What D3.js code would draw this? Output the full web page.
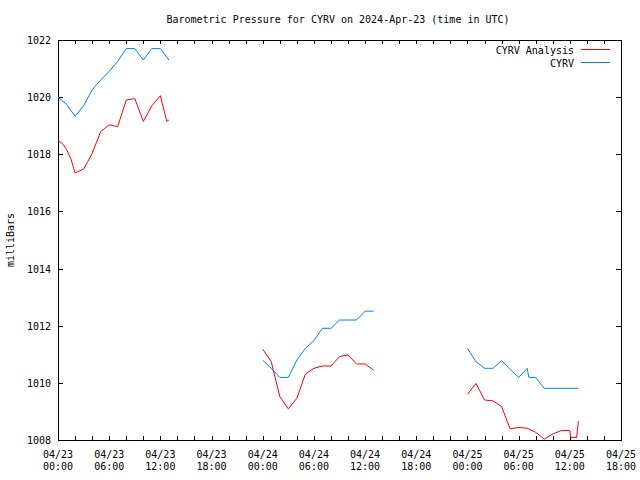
<!DOCTYPE html>
<html>
<head>
<meta charset="utf-8">
<script src="https://cdn.jsdelivr.net/npm/d3@7"></script>
<style>
  html, body { margin: 0; padding: 0; background: #fff; }
  svg { display: block; }
  text { font-family: "DejaVu Sans Mono", "Liberation Mono", monospace; font-size: 10px; fill: #000; }
</style>
</head>
<body>
<svg id="chart" width="640" height="480"></svg>
<script>
// ---- Data (hours after 2024-04-23 00:00 UTC) ----
const chartTitle = "Barometric Pressure for CYRV on 2024-Apr-23 (time in UTC)";
const yAxisTitle = "milliBars";
const seriesNames = ["CYRV Analysis", "CYRV"];

const analysisHours = [0, 0.6, 1, 1.5, 2, 3, 3.5, 4, 5, 6, 7, 8, 9, 10, 11, 12, 12.75, 13,
  24, 25, 26, 27, 28, 29, 30, 31, 32, 33, 34, 35, 36, 37,
  48, 49, 50, 51, 52, 53, 54, 55, 56, 57, 58, 59, 60, 60.1, 60.8, 61];
const analysisValues = [1018.5, 1018.35, 1018.17, 1017.85, 1017.35, 1017.48, 1017.75, 1018.03, 1018.79, 1019.03, 1018.97, 1019.9, 1019.95, 1019.15, 1019.7, 1020.05, 1019.15, 1019.2,
  1011.18, 1010.74, 1009.52, 1009.09, 1009.46, 1010.31, 1010.51, 1010.59, 1010.59, 1010.92, 1010.98, 1010.66, 1010.66, 1010.44,
  1009.6, 1009.98, 1009.4, 1009.37, 1009.17, 1008.39, 1008.44, 1008.41, 1008.27, 1008.03, 1008.21, 1008.33, 1008.33, 1008.09, 1008.09, 1008.66];

const obsHours = [0, 1, 2, 3, 4, 5, 6, 7, 8, 9, 10, 11, 12, 13,
  24, 25, 26, 27, 28, 29, 30, 31, 32, 33, 34, 35, 36, 37,
  48, 49, 50, 51, 52, 53, 54, 55, 55.2, 56, 57, 58, 59, 60, 61];
const obsValues = [1020.0, 1019.75, 1019.33, 1019.7, 1020.25, 1020.6, 1020.9, 1021.25, 1021.7, 1021.7, 1021.3, 1021.7, 1021.7, 1021.3,
  1010.79, 1010.51, 1010.19, 1010.19, 1010.8, 1011.21, 1011.48, 1011.91, 1011.91, 1012.2, 1012.2, 1012.2, 1012.51, 1012.51,
  1011.21, 1010.74, 1010.51, 1010.51, 1010.78, 1010.47, 1010.19, 1010.51, 1010.19, 1010.19, 1009.81, 1009.81, 1009.81, 1009.81, 1009.81];

const xTickHours = [0, 6, 12, 18, 24, 30, 36, 42, 48, 54, 60, 66];
const xTickDates = ["04/23", "04/23", "04/23", "04/23", "04/24", "04/24", "04/24", "04/24", "04/25", "04/25", "04/25", "04/25"];
const xTickTimes = ["00:00", "06:00", "12:00", "18:00", "00:00", "06:00", "12:00", "18:00", "00:00", "06:00", "12:00", "18:00"];
const yTicks = [1008, 1010, 1012, 1014, 1016, 1018, 1020, 1022];

const colors = ["#ff0000", "#0080ff"];

// ---- Layout ----
const svg = d3.select("#chart");
const L = 58, R = 621, T = 40, B = 440;
const x = d3.scaleLinear().domain([0, 66]).range([L, R]);
const y = d3.scaleLinear().domain([1008, 1022]).range([B, T]);

// Title
svg.append("text").attr("x", 338).attr("y", 23).attr("text-anchor", "middle").text(chartTitle);

// Y axis title
svg.append("text").attr("transform", "translate(14,240) rotate(-90)")
  .attr("text-anchor", "middle").text(yAxisTitle);

// Ticks
const minorHours = d3.range(0, 67, 2);
const tickG = svg.append("g").attr("stroke", "#000").attr("stroke-width", 1).attr("shape-rendering", "crispEdges");
minorHours.forEach(h => {
  const xx = Math.round(x(h)) + 0.5;
  tickG.append("line").attr("x1", xx).attr("x2", xx).attr("y1", B).attr("y2", B - 4);
  tickG.append("line").attr("x1", xx).attr("x2", xx).attr("y1", T).attr("y2", T + 4);
});
yTicks.forEach(v => {
  const yy = Math.round(y(v)) + 0.5;
  tickG.append("line").attr("x1", L).attr("x2", L + 5).attr("y1", yy).attr("y2", yy);
  tickG.append("line").attr("x1", R).attr("x2", R - 5).attr("y1", yy).attr("y2", yy);
});

// Frame
svg.append("rect").attr("x", L + 0.5).attr("y", T + 0.5).attr("width", R - L).attr("height", B - T)
  .attr("fill", "none").attr("stroke", "#000").attr("shape-rendering", "crispEdges");

// Tick labels
xTickHours.forEach((h, i) => {
  const t = svg.append("text").attr("x", x(h)).attr("text-anchor", "middle");
  t.append("tspan").attr("x", x(h)).attr("y", 458).text(xTickDates[i]);
  t.append("tspan").attr("x", x(h)).attr("y", 470).text(xTickTimes[i]);
});
yTicks.forEach(v => {
  svg.append("text").attr("x", 51).attr("y", y(v) + 4).attr("text-anchor", "end").text(v);
});

// Lines (break segments at data gaps)
function segments(hours, values) {
  const segs = [];
  let cur = [];
  hours.forEach((h, i) => {
    if (cur.length && h - cur[cur.length - 1][0] > 3) { segs.push(cur); cur = []; }
    cur.push([h, values[i]]);
  });
  if (cur.length) segs.push(cur);
  return segs;
}
const line = d3.line().x(d => x(d[0])).y(d => y(d[1]));
[[analysisHours, analysisValues], [obsHours, obsValues]].forEach(([hs, vs], si) => {
  segments(hs, vs).forEach(seg => {
    svg.append("path").attr("d", line(seg)).attr("fill", "none")
      .attr("stroke", colors[si]).attr("stroke-width", 1);
  });
});

// Legend
seriesNames.forEach((name, i) => {
  const ly = 49.5 + i * 13;
  svg.append("text").attr("x", 574).attr("y", ly + 4).attr("text-anchor", "end").text(name);
  svg.append("line").attr("x1", 581).attr("x2", 610).attr("y1", ly).attr("y2", ly)
    .attr("stroke", colors[i]).attr("stroke-width", 1).attr("shape-rendering", "crispEdges");
});
</script>
</body>
</html>
